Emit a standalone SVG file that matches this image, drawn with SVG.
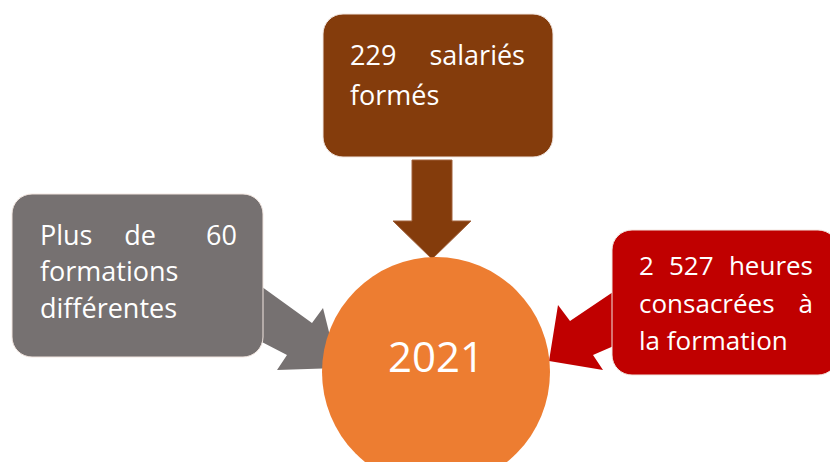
<svg xmlns="http://www.w3.org/2000/svg" width="830" height="462" viewBox="0 0 830 462">
  <style>
    .lbl { font-family: "Open Sans", "Liberation Sans", sans-serif; font-size: 27px; fill: #ffffff; }
    .sm { font-size: 26px; }
    .box { stroke: #f2e6e0; stroke-width: 1; }
    .year { font-family: "Open Sans", "Liberation Sans", sans-serif; font-size: 42px; fill: #ffffff; text-anchor: middle; }
    .end { text-anchor: end; }
    .mid { text-anchor: middle; }
  </style>
  <rect width="830" height="462" fill="#ffffff"/>

  <!-- connectors: block arrows pointing at the centre -->
  <g id="connectors">
    <polygon points="412,160 452,160 452,221 471,221 432,259 393,221 412,221" fill="#843C0C" stroke="#a0603a" stroke-width="1"/>
    <polygon points="258,284 312,323 323,308 338,368 277,370 287,355 258,340" fill="#767171"/>
    <polygon points="616,290 570,321 558,305 549,361 603,370 593,355 616,345" fill="#C00000"/>
  </g>

  <!-- centre -->
  <g id="center">
    <ellipse cx="436" cy="372" rx="114" ry="115" fill="#ED7D31"/>
    <text class="year" x="436" y="372">2021</text>
  </g>

  <!-- top box -->
  <g id="node-salaries">
    <rect class="box" x="323" y="14" width="230" height="143" rx="20" fill="#843C0C"/>
    <text class="lbl" y="65"><tspan x="350">229</tspan><tspan x="525" class="end">salariés</tspan></text>
    <text class="lbl" x="350" y="105">formés</text>
  </g>

  <!-- left box -->
  <g id="node-formations">
    <rect class="box" x="12" y="194" width="251" height="163" rx="20" fill="#767171"/>
    <text class="lbl" y="245"><tspan x="40">Plus</tspan><tspan x="140" class="mid">de</tspan><tspan x="237" class="end">60</tspan></text>
    <text class="lbl" x="40" y="281">formations</text>
    <text class="lbl" x="40" y="318">différentes</text>
  </g>

  <!-- right box -->
  <g id="node-heures">
    <rect class="box" x="612" y="230" width="226" height="145" rx="20" fill="#C00000"/>
    <text class="lbl sm" y="275"><tspan x="639">2</tspan><tspan x="669">527</tspan><tspan x="813" class="end">heures</tspan></text>
    <text class="lbl sm" y="313"><tspan x="639">consacrées</tspan><tspan x="813" class="end">à</tspan></text>
    <text class="lbl sm" x="639" y="350">la formation</text>
  </g>
</svg>
